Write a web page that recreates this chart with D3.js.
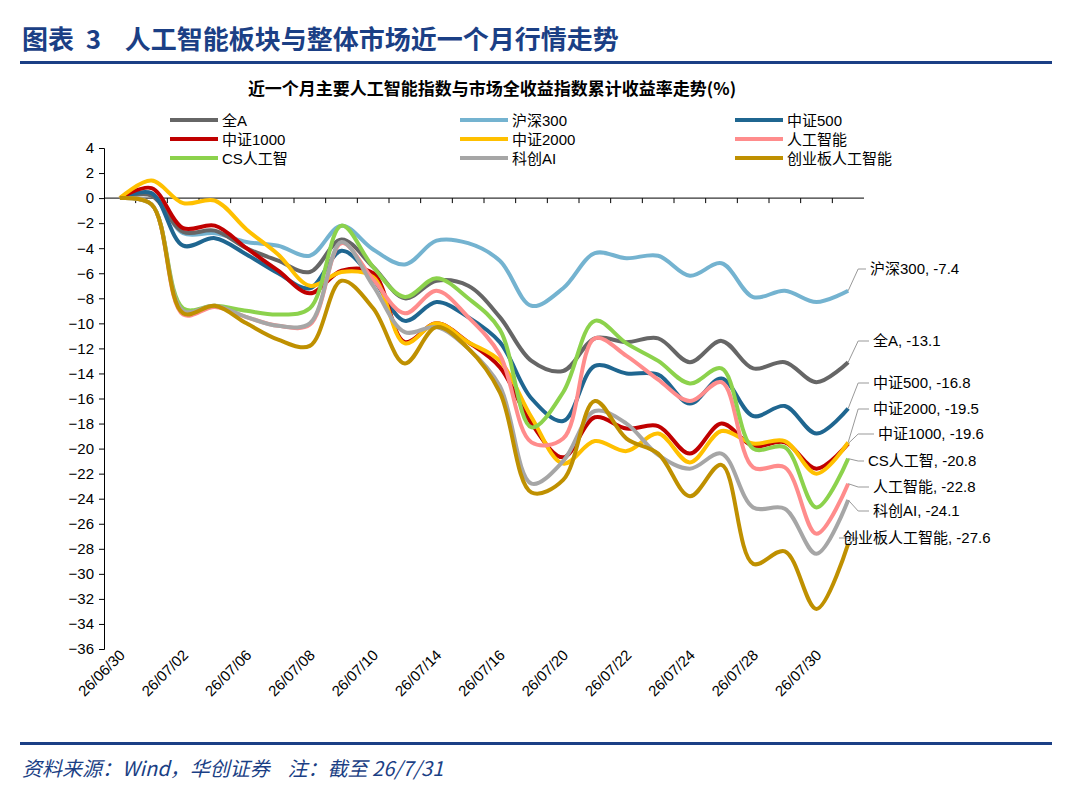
<!DOCTYPE html>
<html><head><meta charset="utf-8">
<script src="https://cdn.jsdelivr.net/npm/d3@7"></script>
<style>
body{margin:0;background:#fff;}
svg{font-family:"Liberation Sans","Noto Sans CJK SC",sans-serif;}
text{white-space:pre;}
</style></head>
<body><svg></svg>
<script>
// trading days
let dates = ['26/06/30','26/07/01','26/07/02','26/07/03','26/07/06','26/07/07','26/07/08','26/07/09','26/07/10','26/07/13','26/07/14','26/07/15','26/07/16','26/07/17','26/07/20','26/07/21','26/07/22','26/07/23','26/07/24','26/07/27','26/07/28','26/07/29','26/07/30','26/07/31'];
let tickDates = ['26/06/30','26/07/02','26/07/06','26/07/08','26/07/10','26/07/14','26/07/16','26/07/20','26/07/22','26/07/24','26/07/28','26/07/30'];
let yTicks = d3.range(4, -37, -2);

let names = ['全A','沪深300','中证500','中证1000','中证2000','人工智能','CS人工智','科创AI','创业板人工智能'];
let colors = ['#666666','#74b3d0','#1f6690','#c00000','#ffc000','#ff8c8c','#8cd24c','#a6a6a6','#bf9000'];

let quanA   = [0,0.2,-2.7,-2.6,-4,-5,-5.9,-3.3,-5.5,-8,-6.6,-7,-9.5,-13,-13.8,-11.2,-11.5,-11.2,-13.1,-11.4,-13.6,-13.1,-14.7,-13.1];
let hs300   = [0,0.3,-2.8,-2.8,-3.5,-3.8,-4.6,-2.2,-4.1,-5.3,-3.4,-3.6,-5,-8.6,-7.2,-4.4,-4.8,-4.6,-6.2,-5.2,-7.9,-7.4,-8.3,-7.4];
let zz500   = [0,0.4,-3.8,-3.2,-4.5,-6,-7.2,-4.2,-6.5,-9.8,-8.3,-9.5,-11.5,-16,-17.8,-13.4,-14,-14.1,-16.4,-14.4,-17.4,-16.6,-18.8,-16.8];
let zz1000  = [0,0.8,-2.4,-2.2,-4,-5.8,-7.6,-5.8,-6,-11.5,-10,-11.5,-13.5,-18,-20.7,-17.5,-18.4,-18.2,-20.4,-18,-19.8,-19.5,-21.6,-19.6];
let zz2000  = [0,1.4,-0.4,-0.2,-2.5,-4.5,-7,-5.9,-6.3,-11.6,-10,-11.5,-13,-17.5,-21.2,-19.4,-20.2,-18.8,-21.1,-18.6,-19.6,-19.4,-22,-19.5];
let rgzn    = [0,-0.5,-9.3,-8.7,-9.5,-10.2,-10.1,-3.6,-6.5,-9.2,-7.4,-9.5,-12.5,-19.5,-19.2,-11.2,-12.6,-14.5,-16.2,-14.7,-21.5,-21.5,-26.8,-22.8];
let csrgz   = [0,-0.5,-8.8,-8.6,-9,-9.3,-8.8,-2.2,-5.5,-7.9,-6.4,-8,-10.5,-18.3,-15.5,-9.8,-11.6,-13,-14.8,-13.6,-20,-19.9,-24.7,-20.8];
let kcai    = [0,-0.5,-9,-8.6,-9.5,-10.2,-10,-3.5,-7,-10.7,-10.3,-12,-15,-22.8,-21,-17,-18,-20.5,-21.6,-20.4,-24.7,-24.8,-28.4,-24.1];
let cybrgzn = [0,-0.5,-9.2,-8.6,-10,-11.3,-11.8,-6.6,-8.8,-13.2,-10.3,-12,-15.5,-23.5,-22.5,-16.2,-19.2,-20.4,-23.8,-21.3,-29.2,-28.2,-32.8,-27.6];
let series = [quanA,hs300,zz500,zz1000,zz2000,rgzn,csrgz,kcai,cybrgzn];
let endLabels = ['沪深300, -7.4','全A, -13.1','中证500, -16.8','中证2000, -19.5','中证1000, -19.6','CS人工智, -20.8','人工智能, -22.8','科创AI, -24.1','创业板人工智能, -27.6'];
let endIdx = [1,0,2,4,3,6,5,7,8];
// label layout (px)
let labelY = [274,346,388,414,439,466,492,516,543];
let labelX = [870,873,873,873,878,868,873,873,843];

let width = 1080, height = 797;
let svg = d3.select('svg').attr('width',width).attr('height',height);

let navy = '#1b3f85';
svg.append('text').attr('x',22).attr('y',49).attr('fill',navy)
   .attr('font-size',26).attr('font-weight','bold')
   .attr('font-family','"Noto Sans CJK SC",sans-serif')
   .text('图表  3    人工智能板块与整体市场近一个月行情走势');
svg.append('rect').attr('x',20).attr('y',61).attr('width',1032).attr('height',3).attr('fill',navy);
svg.append('rect').attr('x',20).attr('y',742).attr('width',1032).attr('height',3).attr('fill',navy);
svg.append('text').attr('x',22).attr('y',776).attr('fill',navy)
   .attr('font-size',20).attr('font-style','italic')
   .attr('font-family','"Noto Sans CJK SC",serif')
   .text('资料来源：Wind，华创证券    注：截至 26/7/31');

svg.append('text').attr('x',492).attr('y',95).attr('text-anchor','middle')
   .attr('font-size',17).attr('font-weight','bold')
   .attr('font-family','"Noto Sans CJK SC",sans-serif')
   .text('近一个月主要人工智能指数与市场全收益指数累计收益率走势(%)');

// scales
let xScale = d3.scaleBand().domain(dates).range([104, 864]);
let xc = d => xScale(d) + xScale.bandwidth()/2;
let yScale = d3.scaleLinear().domain([-36,4]).range([649,148]);

let yAxis = d3.axisLeft(yScale).tickValues(yTicks).tickSize(5).tickFormat(d3.format('d'));
let gy = svg.append('g').attr('transform','translate(104,0)').call(yAxis);
gy.selectAll('text').attr('font-size',15).attr('fill','#000').attr('x',-10);
gy.select('.domain').attr('stroke','#000');
gy.selectAll('line').attr('stroke','#000');

let xAxis = d3.axisBottom(xScale).tickSize(5).tickFormat('');
let gx = svg.append('g').attr('transform','translate(0,'+yScale(0)+')').call(xAxis);
gx.selectAll('.tick').attr('transform',d => 'translate('+(xScale(d)+xScale.bandwidth())+',0)');
gx.selectAll('.tick').filter(d => d === dates[dates.length-1]).remove();
gx.select('.domain').attr('stroke','#000').attr('d','M104,0H864');
gx.selectAll('line').attr('stroke','#000');

svg.append('g').selectAll('text').data(tickDates).enter().append('text')
   .attr('font-size',15)
   .attr('text-anchor','end')
   .attr('transform',d => 'translate('+(xc(d)+6)+',656) rotate(-45)')
   .text(d => d);

// lines
let line = d3.line().x((d,i) => xc(dates[i])).y(d => yScale(d)).curve(d3.curveCatmullRom.alpha(0.5));
let drawOrder = [1,0,2,3,4,5,6,7,8];
svg.append('g').selectAll('path').data(drawOrder).enter().append('path')
   .attr('d',k => line(series[k])).attr('fill','none')
   .attr('stroke',k => colors[k]).attr('stroke-width',4).attr('stroke-linejoin','round');

// end labels
let lastX = xc(dates[dates.length-1]);
endLabels.forEach((t,j) => {
  let k = endIdx[j];
  let v = series[k][series[k].length-1];
  let lx = labelX[j] - 4;
  svg.append('path').attr('fill','none').attr('stroke','#999').attr('stroke-width',1)
     .attr('d','M'+lastX+','+yScale(v)+'L'+(lastX+10)+','+(labelY[j]-5)+'L'+lx+','+(labelY[j]-5));
  svg.append('text').attr('x',labelX[j]).attr('y',labelY[j]).attr('font-size',15)
     .attr('font-family','"Liberation Sans","Noto Sans CJK SC",sans-serif').text(t);
});

// legend
let legX = [170,460,735], legY = [120,139,158];
names.forEach((n,i) => {
  let x = legX[i%3], y = legY[Math.floor(i/3)];
  svg.append('line').attr('x1',x).attr('x2',x+48).attr('y1',y).attr('y2',y)
     .attr('stroke',colors[i]).attr('stroke-width',4);
  svg.append('text').attr('x',x+52).attr('y',y+6).attr('font-size',15).text(n);
});
</script></body></html>
